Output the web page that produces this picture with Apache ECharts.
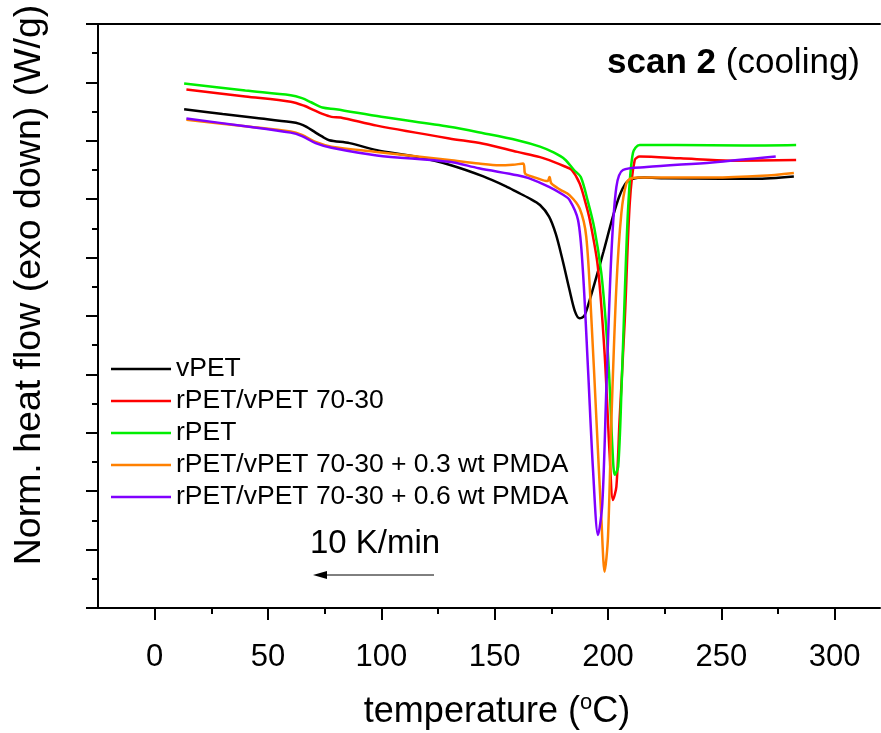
<!DOCTYPE html>
<html>
<head>
<meta charset="utf-8">
<script src="https://cdn.jsdelivr.net/npm/echarts@6/dist/echarts.min.js"></script>
<style>
  html, body { margin: 0; padding: 0; background: #fff; }
  #chart { width: 881px; height: 733px; }
</style>
</head>
<body>
<div id="chart"></div>
<script>
// temperature (C) / normalised heat flow (arb. units, 0..10 on the frame)
var tVPET = [13, 30, 45, 60, 64, 67, 71, 74, 77, 86, 98, 115, 130, 145, 155, 160, 165, 170, 174, 177, 180, 183, 185.5, 187.5, 189.5, 191.5, 194, 198, 202, 205, 208, 211, 216, 225, 250, 265, 282];
var hVPET = [8.54, 8.46, 8.39, 8.32, 8.29, 8.24, 8.14, 8.07, 8.01, 7.96, 7.84, 7.73, 7.59, 7.39, 7.22, 7.12, 7.02, 6.90, 6.70, 6.40, 5.95, 5.45, 5.07, 4.96, 5.00, 5.22, 5.55, 6.10, 6.68, 7.05, 7.28, 7.35, 7.37, 7.36, 7.35, 7.35, 7.39];

var tMix = [14, 40, 60, 66, 70, 74, 78, 82, 98, 130, 145, 160, 170, 176, 181, 184, 187.5, 190, 192, 195.5, 198.5, 200.7, 202.2, 203.7, 205.1, 207.4, 209.6, 211.8, 214, 232, 254, 283];
var hMix = [8.88, 8.76, 8.67, 8.60, 8.53, 8.46, 8.41, 8.40, 8.26, 8.04, 7.95, 7.81, 7.72, 7.64, 7.56, 7.50, 7.27, 6.95, 6.64, 5.85, 4.36, 2.65, 1.85, 2.08, 3.22, 4.93, 6.93, 7.67, 7.73, 7.70, 7.66, 7.67];

var tRPET = [13, 40, 60, 65, 69, 74, 80, 100, 130, 145, 160, 170, 176, 181, 185, 188, 191, 194, 197, 199, 200.5, 202, 203, 204.5, 206, 207.5, 209, 211, 214, 230, 260, 283];
var hRPET = [8.98, 8.86, 8.78, 8.73, 8.66, 8.57, 8.54, 8.41, 8.24, 8.13, 8.01, 7.90, 7.80, 7.68, 7.50, 7.38, 6.98, 6.50, 5.75, 4.90, 4.00, 2.70, 2.28, 2.42, 3.79, 5.50, 6.93, 7.79, 7.93, 7.93, 7.92, 7.93];

var tPM3 = [14, 40, 60, 65, 71, 78, 98, 130, 143, 152, 158, 162.6, 163.3, 164, 168, 173.3, 174.2, 175, 179, 183, 187.5, 190.4, 192.7, 194.9, 197.1, 198.5, 200, 201.5, 203.7, 205.9, 208.1, 210.3, 214, 246, 268, 282];
var hPM3 = [8.36, 8.25, 8.16, 8.10, 7.98, 7.90, 7.81, 7.67, 7.61, 7.58, 7.59, 7.61, 7.45, 7.42, 7.37, 7.31, 7.38, 7.27, 7.16, 7.07, 6.84, 6.36, 4.93, 3.22, 1.51, 0.62, 1.22, 3.22, 5.50, 6.76, 7.27, 7.36, 7.37, 7.37, 7.40, 7.45];

var tPM6 = [14, 40, 60, 65, 71, 78, 98, 130, 143, 160, 165, 174, 180, 183, 186.8, 188.9, 191.2, 193.4, 195.6, 197.5, 199.3, 201.5, 203.7, 206.6, 217, 246, 274];
var hPM6 = [8.38, 8.25, 8.14, 8.08, 7.96, 7.88, 7.75, 7.64, 7.53, 7.41, 7.36, 7.21, 7.08, 6.99, 6.64, 5.79, 4.08, 2.36, 1.25, 1.79, 3.79, 6.07, 7.21, 7.50, 7.55, 7.63, 7.73];

var seriesNames = ['vPET', 'rPET/vPET 70-30', 'rPET', 'rPET/vPET 70-30 + 0.3 wt PMDA', 'rPET/vPET 70-30 + 0.6 wt PMDA'];
var seriesColors = ['#000000', '#ff0000', '#00ee00', '#ff8000', '#8000ff'];
var xMajor = [0, 50, 100, 150, 200, 250, 300];
var xMinor = [25, 75, 125, 175, 225, 275];

var FONT = 'Liberation Sans, Arial, sans-serif';

function pairs(t, h){
  return t.map(function(x, i){ return [x, h[i]]; });
}

var curves = [pairs(tVPET, hVPET), pairs(tMix, hMix), pairs(tRPET, hRPET), pairs(tPM3, hPM3), pairs(tPM6, hPM6)];

var myChart = echarts.init(document.getElementById('chart'));
var option = {
  backgroundColor: '#fff',
  animation: false,
  grid: { left: 98, right: 1, top: 24, bottom: 125 },
  legend: {
    orient: 'vertical',
    left: 111,
    top: 353,
    padding: 0,
    itemGap: 0,
    itemWidth: 60,
    itemHeight: 2.5,
    icon: 'rect',
    data: seriesNames,
    textStyle: { fontFamily: FONT, fontSize: 26.5, color: '#000', lineHeight: 32 }
  },
  xAxis: [{
    type: 'value', min: -25, max: 320, position: 'bottom',
    splitLine: { show: false },
    axisLine: { onZero: false, lineStyle: { color: '#000', width: 2 } },
    axisTick: { customValues: xMajor, length: 12, lineStyle: { color: '#000', width: 2 } },
    axisLabel: { customValues: xMajor, margin: 34, fontFamily: FONT, fontSize: 31, color: '#000' }
  }, {
    type: 'value', min: -25, max: 320, position: 'bottom',
    splitLine: { show: false },
    axisLine: { onZero: false, show: false },
    axisTick: { show: true, customValues: xMinor, length: 6, lineStyle: { color: '#000', width: 2 } },
    axisLabel: { show: false }
  }, {
    type: 'value', min: -25, max: 320, position: 'top',
    splitLine: { show: false },
    axisLine: { onZero: false, lineStyle: { color: '#000', width: 2 } },
    axisTick: { show: false },
    axisLabel: { show: false }
  }],
  yAxis: {
    type: 'value', min: 0, max: 10, interval: 1,
    splitLine: { show: false },
    axisLine: { onZero: false, lineStyle: { color: '#000', width: 2 } },
    axisTick: { length: 12, lineStyle: { color: '#000', width: 2 } },
    minorTick: { show: true, splitNumber: 2, length: 6, lineStyle: { color: '#000', width: 2 } },
    minorSplitLine: { show: false },
    axisLabel: { show: false }
  },
  series: seriesNames.map(function(name, i){
    return {
      name: name,
      type: 'line',
      data: curves[i],
      symbol: 'none',
      smooth: 0.3,
      color: seriesColors[i],
      lineStyle: { width: 2.5, color: seriesColors[i] }
    };
  }),
  graphic: [
    {
      type: 'text', x: 30, y: 285, rotation: Math.PI / 2,
      style: { text: 'Norm. heat flow (exo down) (W/g)', fontFamily: FONT, fontSize: 37.5, fill: '#000', textAlign: 'center', textVerticalAlign: 'middle' }
    },
    {
      type: 'text', x: 497, y: 712,
      style: {
        text: '{n|temperature (}{s|o}{n|C)}', textAlign: 'center', textVerticalAlign: 'middle',
        rich: {
          n: { fontFamily: FONT, fontSize: 36, fill: '#000', lineHeight: 40 },
          s: { fontFamily: FONT, fontSize: 22, fill: '#000', lineHeight: 40, padding: [0, 0, 18, 0] }
        }
      }
    },
    {
      type: 'text', x: 860, y: 63,
      style: {
        text: '{b|scan 2 }{n|(cooling)}', textAlign: 'right', textVerticalAlign: 'middle',
        rich: {
          b: { fontFamily: FONT, fontSize: 35, fontWeight: 'bold', fill: '#000' },
          n: { fontFamily: FONT, fontSize: 35, fill: '#000' }
        }
      }
    },
    {
      type: 'text', x: 375, y: 544,
      style: { text: '10 K/min', fontFamily: FONT, fontSize: 33, fill: '#000', textAlign: 'center', textVerticalAlign: 'middle' }
    },
    {
      type: 'line', shape: { x1: 434, y1: 575, x2: 322, y2: 575 },
      style: { stroke: '#000', lineWidth: 1 }
    },
    {
      type: 'polygon', shape: { points: [[313, 575], [327, 571], [327, 579]] },
      style: { fill: '#000' }
    }
  ]
};
myChart.setOption(option);
</script>
</body>
</html>
